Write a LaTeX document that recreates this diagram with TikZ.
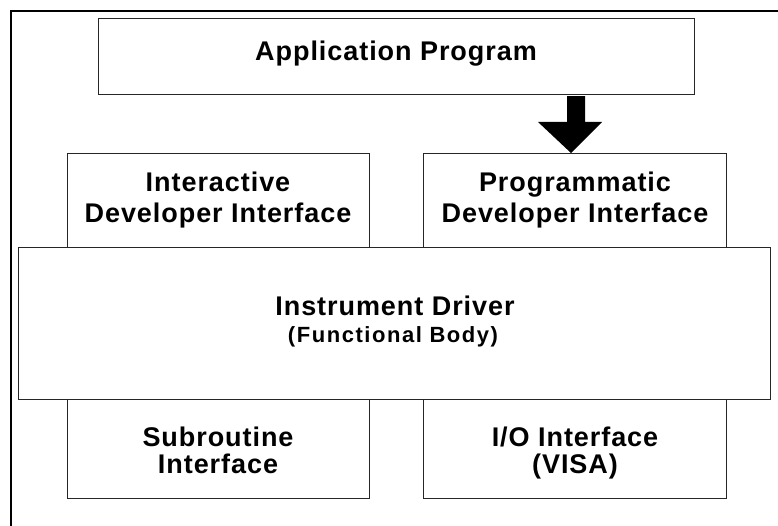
\documentclass[tikz,border=0pt]{standalone}
\usepackage{fontspec}
\newfontfamily\labfont{Liberation Sans}[LetterSpace=3.5]
\newfontfamily\labsfont{Liberation Sans}[LetterSpace=7]
\begin{document}
\begin{tikzpicture}[x=1pt,y=-1pt,
  box/.style={draw=black!85, line width=1.2pt, fill=white, inner sep=0pt, anchor=north west},
  lbl/.style={anchor=base, inner sep=0pt, font=\labfont\bfseries\fontsize{27}{32}\selectfont},
  slbl/.style={anchor=base, inner sep=0pt, font=\labsfont\bfseries\fontsize{22}{26}\selectfont}]
\useasboundingbox (0,0) rectangle (778,526);
\fill[white] (0,0) rectangle (778,526);
\begin{scope}
\clip (0,0) rectangle (778,526);
\node[draw=black, line width=1.6pt, inner sep=0pt, anchor=north west, minimum width=800pt, minimum height=540pt] (frame) at (10,10) {};
\end{scope}
% boxes
\node[box, minimum width=596pt, minimum height=76pt] (app) at (98,18) {};
\node[box, minimum width=302pt, minimum height=94pt] (inter) at (67,153) {};
\node[box, minimum width=303pt, minimum height=94pt] (prog) at (423,153) {};
\node[box, minimum width=302pt, minimum height=99pt] (sub) at (67,399) {};
\node[box, minimum width=303pt, minimum height=99pt] (io) at (423,399) {};
\node[box, minimum width=752pt, minimum height=152pt] (drv) at (18,247) {};
% block arrow from app to prog
\coordinate (atop) at (app.south -| 576,0);
\coordinate (atip) at (prog.north -| 571,0);
\fill[black] ([xshift=-9pt,yshift=-1pt]atop) -- ([xshift=9pt,yshift=-1pt]atop)
  -- ([xshift=9pt]atop |- 0,122) -- (602,122) -- (atip) -- (538,122)
  -- ([xshift=-9pt]atop |- 0,122) -- cycle;
% labels
\node[lbl] (tapp) at (396,61) {Application Program};
\node[lbl] (tint1) at (218,192) {Interactive};
\node[lbl] (tint2) at (218,223) {Developer Interface};
\node[lbl] (tprg1) at (575,192) {Programmatic};
\node[lbl] (tprg2) at (575,223) {Developer Interface};
\node[lbl] (tdrv1) at (395,316) {Instrument Driver};
\node[slbl] (tdrv2) at (393,342) {(Functional Body)};
\node[lbl] (tsub1) at (218,446) {Subroutine};
\node[lbl] (tsub2) at (218,473) {Interface};
\node[lbl] (tio1) at (575,446) {I/O Interface};
\node[lbl] (tio2) at (575,473) {(VISA)};
\end{tikzpicture}
\end{document}
